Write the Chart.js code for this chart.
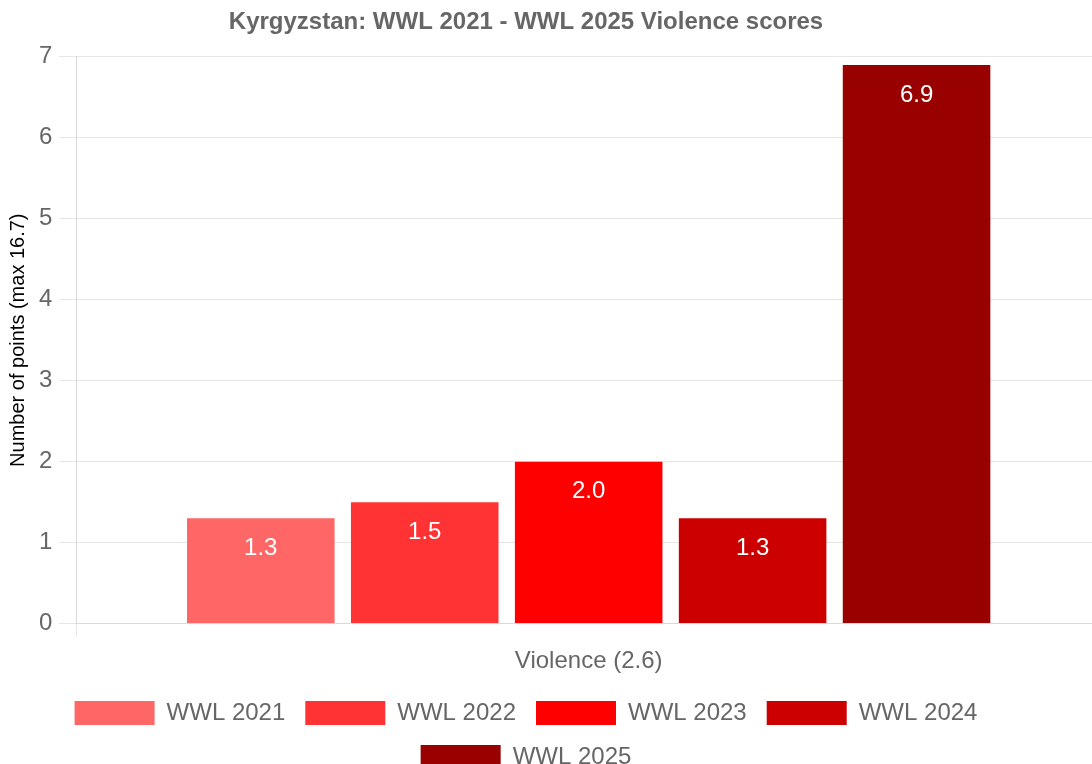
<!DOCTYPE html>
<html>
<head>
<meta charset="utf-8">
<script src="https://cdn.jsdelivr.net/npm/chart.js@4"></script>
<style>
  html, body { margin: 0; padding: 0; overflow: hidden; background: #fff; }
  #wrap { width: 1150px; height: 779px; position: relative; margin-left: -49px; }
</style>
</head>
<body>
<div id="wrap"><canvas id="barChart"></canvas></div>
<script>
/** datos del grafico */
let categories = ["Violence (2.6)"]
let years = ["WWL 2021", "WWL 2022", "WWL 2023", "WWL 2024", "WWL 2025"]
let scores = [1.3, 1.5, 2.0, 1.3, 6.9]
let colors = ["#ff6666", "#ff3333", "#ff0000", "#cc0000", "#990000"]
let y_ticks = [0, 1, 2, 3, 4, 5, 6, 7]

let datasets = []
for (let i = 0; i < years.length; i++) {
    datasets.push({
        label: years[i],
        data: [scores[i]],
        backgroundColor: colors[i]
    })
}

/** etiquetas blancas dentro de las barras */
let labelsPlugin = {
    id: 'labelsInside',
    afterDatasetsDraw: function (chart) {
        let ctx = chart.ctx
        chart.data.datasets.forEach(function (dataset, i) {
            let meta = chart.getDatasetMeta(i)
            if (meta.hidden) return
            meta.data.forEach(function (element, index) {
                ctx.save()
                ctx.fillStyle = '#ffffff'
                ctx.font = '24px "Liberation Sans", Arial, sans-serif'
                ctx.textAlign = 'center'
                ctx.textBaseline = 'middle'
                ctx.fillText(dataset.data[index].toFixed(1), element.x, element.y + 30)
                ctx.restore()
            })
        })
    }
}

Chart.defaults.font.family = '"Liberation Sans", Arial, sans-serif'

let ctx = document.getElementById("barChart").getContext('2d')
let barChart = new Chart(ctx, {
    type: 'bar',
    data: { labels: categories, datasets: datasets },
    options: {
        responsive: true,
        maintainAspectRatio: false,
        animation: false,
        layout: { padding: 0 },
        plugins: {
            title: {
                display: true,
                text: 'Kyrgyzstan: WWL 2021 - WWL 2025 Violence scores',
                color: '#666',
                font: { size: 24, weight: 'bold' },
                padding: { top: 8, bottom: 20 }
            },
            legend: {
                position: 'bottom',
                labels: {
                    color: '#666',
                    font: { size: 24 },
                    boxWidth: 80,
                    boxHeight: 24,
                    padding: 20
                }
            },
            tooltip: { enabled: false }
        },
        scales: {
            x: {
                ticks: { color: '#666', font: { size: 24, lineHeight: 0.1 }, padding: 24 },
                grid: { color: '#e6e6e6', tickLength: 13 },
                border: { color: '#d9d9d9' },
                afterFit: function (axis) { axis.height -= 6 }
            },
            y: {
                min: 0,
                max: 7,
                afterBuildTicks: function (axis) {
                    axis.ticks = y_ticks.map(function (v) { return { value: v } })
                },
                ticks: { color: '#666', font: { size: 24 }, padding: 7 },
                grid: { color: '#e6e6e6', tickLength: 17 },
                border: { color: '#d9d9d9' },
                title: {
                    display: true,
                    text: 'Number of points (max 16.7)',
                    color: '#000',
                    font: { size: 20 },
                    padding: { top: 55, bottom: 2 }
                }
            }
        }
    },
    plugins: [labelsPlugin]
})
</script>
</body>
</html>
